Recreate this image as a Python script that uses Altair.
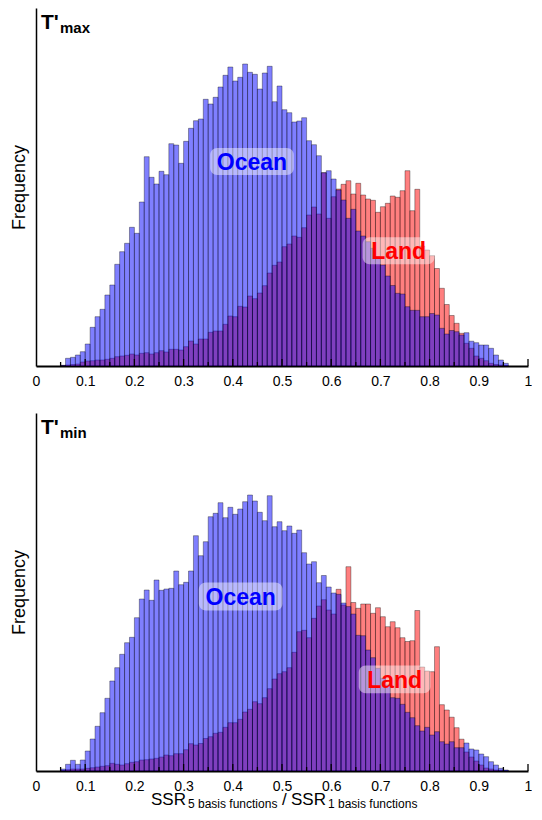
import altair as alt
import pandas as pd

# ---------------- data (bin starts, width 0.01) ----------------
bin_start = [round(0.05 + 0.01 * i, 2) for i in range(91)]
bin_end = [round(b + 0.01, 2) for b in bin_start]

ocean_max = [0.7, 7.7, 8.7, 11, 14.3, 22, 38.7, 49.3, 56.7, 71,
             81, 101.7, 114.3, 122.7, 138.7, 132.7, 164, 209.3, 188.7, 182,
             194.7, 191.3, 222.3, 221, 202.7, 224.7, 237.7, 245.3, 247, 266.7,
             262, 268.7, 279, 290.7, 299, 285, 288.7, 302, 293.7, 291.7,
             277, 293, 299.7, 264.3, 280, 256.3, 253.3, 244, 245, 248.3,
             225.3, 221.3, 210.3, 193.3, 195.3, 187, 176, 166, 147.7, 156.7,
             135, 130, 124.3, 117.7, 109.3, 101, 90, 80.5, 72.7, 72,
             59.3, 55.7, 55.7, 49.3, 49.3, 52.5, 51, 37.7, 32, 35.5,
             34.3, 31, 33.3, 24.8, 23.3, 21, 21, 17.7, 11, 6,
             2.7]

land_max = [0.5, 1, 1.5, 2, 4, 5, 5.3, 6, 6, 6.7,
            7.7, 9.3, 10, 10.7, 12, 11, 12.7, 13.3, 12, 13.3,
            15.3, 14, 16.7, 16.7, 16, 19.3, 25, 22, 27, 27,
            33.7, 35, 35, 41.7, 50, 49.3, 59.7, 59, 70, 67.3,
            73, 80.3, 93, 100.7, 104, 119.3, 122, 130, 128.7, 138.3,
            151, 159, 152, 193.3, 147.7, 169.3, 177, 181.7, 185.3, 172,
            182.7, 171, 167, 165.7, 153.7, 159.3, 162.7, 170, 168.7, 175.3,
            195.3, 155.3, 176.7, 120, 116, 110.3, 97.5, 77.7, 61.5, 50.5,
            42.7, 32.7, 22.7, 17.7, 10, 7.7, 5.3, 2.7, 1.5, 1,
            0.5]

ocean_min = [2, 6.7, 10.7, 6.7, 11, 20, 32, 44.7, 58.3, 72.7,
             90, 103.3, 116.7, 128.3, 133.7, 153.3, 172, 181, 170.7, 191,
             180.7, 182, 182.7, 200, 186.3, 188.7, 200, 235.3, 215.3, 229.3,
             254.3, 257.7, 268.3, 253.3, 263.7, 256.7, 262, 269.3, 276, 270,
             258.7, 250.3, 275.3, 244.3, 249.3, 240.3, 245, 237.7, 241, 218.3,
             207, 209.3, 188.3, 195.5, 184, 178, 176.7, 168, 164.4, 157,
             135.7, 135.3, 121, 113.3, 102.7, 92.7, 86, 73.3, 72.7, 66.7,
             58.7, 53.3, 45.3, 40, 43.7, 36, 39.3, 29.3, 27, 29.3,
             23.3, 23.3, 28, 22, 21, 17, 14.3, 9.3, 6, 2.7,
             1]

land_min = [0.7, 1.3, 2, 2, 2, 2.7, 3.3, 4, 4.7, 5.3,
            7.7, 6.7, 6, 7.3, 8.7, 9.3, 11, 11.3, 12, 12.7,
            14, 16, 15.3, 17.3, 17.3, 21.3, 27.3, 26, 27.5, 32.5,
            34.3, 37.7, 38.7, 43.7, 48.3, 48.3, 51.7, 59, 61.7, 69.3,
            67.3, 73.3, 82.3, 92, 97.3, 99.3, 103.3, 118.7, 139.3, 140.7,
            133.3, 152.7, 165, 171.3, 161, 157, 181.7, 166, 204.3, 168.5,
            162.7, 167, 167, 157.7, 163.3, 154.3, 144.3, 149.3, 143.3, 133.3,
            129.5, 130.3, 160.5, 104, 100, 99.3, 124.3, 66.3, 61, 53.8,
            43.3, 31.8, 19, 14, 10, 6, 3, 2, 1, 0.7,
            0.3]

tick_vals = [0.1, 0.2, 0.3, 0.4, 0.5, 0.6, 0.7, 0.8, 0.9, 1.0]
minor_tick_vals = [0.05, 0.15, 0.25, 0.35, 0.45, 0.55, 0.65, 0.75, 0.85, 0.95]
axis_vals = [0, 0.1, 0.2, 0.3, 0.4, 0.5, 0.6, 0.7, 0.8, 0.9, 1]

# label annotations (data coords): [x1, x2, y1, y2, xc, yc]
labels_max = {"Ocean": [0.354, 0.524, 191, 218, 0.439, 204.5],
              "Land": [0.664, 0.810, 101.7, 128.7, 0.737, 115.2]}
labels_min = {"Ocean": [0.331, 0.501, 160.4, 188.4, 0.416, 174.4],
              "Land": [0.656, 0.802, 77.7, 105.4, 0.729, 91.5]}
label_colors = {"Ocean": "#0000ff", "Land": "#ff0000"}

W, H = 492, 358
FONT = "Liberation Sans"

xscale = alt.Scale(domain=[0, 1], nice=False, zero=False)
yscale = alt.Scale(domain=[0, H], nice=False)

xaxis = alt.Axis(values=axis_vals, ticks=False, grid=False, domain=True,
                 domainColor="black", domainWidth=2, labelFontSize=14,
                 labelColor="black", labelFont=FONT, labelPadding=8,
                 labelFlush=False, labelOverlap=False, title=None,
                 labelExpr="datum.value == 0 ? '0' : datum.value == 1 ? '1' : format(datum.value, '.1f')")
yaxis = alt.Axis(labels=False, ticks=False, grid=False, domain=True,
                 domainColor="black", domainWidth=1.5, title="Frequency",
                 titleFontSize=18, titleFont=FONT, titleFontWeight="normal",
                 titleColor="black", titlePadding=8)


def panel(ocean, land, sub, labels, xtitle):
    df_o = pd.DataFrame({"start": bin_start, "end": bin_end, "value": ocean, "zero": 0})
    df_l = pd.DataFrame({"start": bin_start, "end": bin_end, "value": land, "zero": 0})

    land_bars = alt.Chart(df_l).mark_rect(
        fill="#ff0000", fillOpacity=0.5, stroke="black", strokeOpacity=0.5, strokeWidth=0.7
    ).encode(
        x=alt.X("start:Q", scale=xscale, axis=xaxis),
        x2="end:Q",
        y=alt.Y("value:Q", scale=yscale, axis=yaxis),
        y2="zero:Q",
    )
    ocean_bars = alt.Chart(df_o).mark_rect(
        fill="#0000ff", fillOpacity=0.5, stroke="black", strokeOpacity=0.5, strokeWidth=0.7
    ).encode(
        x=alt.X("start:Q", scale=xscale, axis=xaxis),
        x2="end:Q",
        y=alt.Y("value:Q", scale=yscale, axis=yaxis),
        y2="zero:Q",
    )

    ticks_df = pd.DataFrame({"t": tick_vals + minor_tick_vals,
                             "len": [7] * len(tick_vals) + [4] * len(minor_tick_vals),
                             "zero": 0})
    ticks = alt.Chart(ticks_df).mark_rule(color="black", strokeWidth=1.3).encode(
        x=alt.X("t:Q", scale=xscale),
        y=alt.Y("zero:Q", scale=yscale),
        y2="len:Q",
    )

    lab_df = pd.DataFrame([
        {"label": k, "x1": v[0], "x2": v[1], "y1": v[2], "y2": v[3], "xc": v[4], "yc": v[5],
         "color": label_colors[k]}
        for k, v in labels.items()
    ])
    boxes = alt.Chart(lab_df).mark_rect(cornerRadius=7, fill="white", opacity=0.45).encode(
        x=alt.X("x1:Q", scale=xscale), x2="x2:Q",
        y=alt.Y("y1:Q", scale=yscale), y2="y2:Q",
    )
    texts = alt.Chart(lab_df).mark_text(font=FONT, fontSize=23, fontWeight="bold",
                                        baseline="middle", align="center", dy=1).encode(
        x=alt.X("xc:Q", scale=xscale),
        y=alt.Y("yc:Q", scale=yscale),
        text="label:N",
        color=alt.Color("color:N", scale=None),
    )

    one = pd.DataFrame({"a": [0]})
    t_main = alt.Chart(one).mark_text(font=FONT, fontSize=21, fontWeight="bold", align="left",
                                      baseline="alphabetic", color="black").encode(
        x=alt.value(5), y=alt.value(21), text=alt.value("T'"))
    t_sub = alt.Chart(one).mark_text(font=FONT, fontSize=15, fontWeight="bold", align="left",
                                     baseline="alphabetic", color="black").encode(
        x=alt.value(24), y=alt.value(25), text=alt.value(sub))

    layers = [land_bars, ocean_bars, ticks, boxes, texts, t_main, t_sub]

    if xtitle:
        pieces = [("SSR", 17, 115, 0), ("5 basis functions", 12, 152, 3),
                  ("/", 17, 246, 0), ("SSR", 17, 255, 0),
                  ("1 basis functions", 12, 292, 3)]
        for txt, fs, px, dy in pieces:
            layers.append(
                alt.Chart(one).mark_text(font=FONT, fontSize=fs, align="left",
                                         baseline="alphabetic", color="black").encode(
                    x=alt.value(px), y=alt.value(H + 34 + dy), text=alt.value(txt))
            )

    return alt.layer(*layers).properties(width=W, height=H)


top = panel(ocean_max, land_max, "max", labels_max, False)
bottom = panel(ocean_min, land_min, "min", labels_min, True)

chart = alt.vconcat(top, bottom, spacing=47, bounds="flush").properties(
    padding={"left": 2, "top": 0, "right": 0, "bottom": 0}
).configure_view(stroke=None)

chart.save("out.html", embed_options={"renderer": "svg", "actions": False})
